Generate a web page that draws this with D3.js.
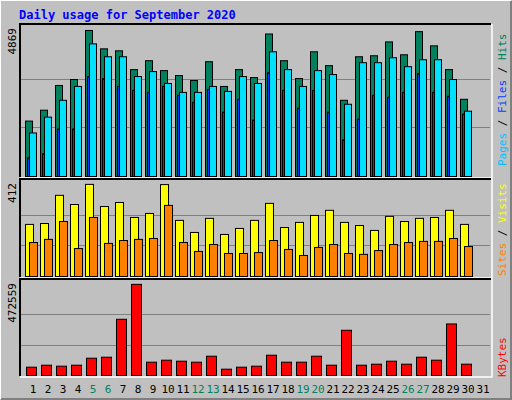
<!DOCTYPE html>
<html><head><meta charset="utf-8">
<script src="https://cdn.jsdelivr.net/npm/d3@7"></script>
<style>body{margin:0;background:#fff}text{font-family:"DejaVu Sans Mono",monospace}</style>
</head><body><div id="chart"></div>
<script>
// Daily values
const days = d3.range(1, 32);
const weekends = [5, 6, 12, 13, 19, 20, 26, 27];
const hits = [1848,2211,3036,3234,4869,4257,4191,3564,3861,3531,3366,3201,3828,3003,3564,3300,4752,3861,3267,4158,3696,2541,3993,4026,4488,4059,4830,4356,3564,2574];
const files = [1452,1980,2541,3003,4422,3993,3993,3333,3498,3102,2805,2805,3003,2838,3333,3102,4158,3564,3003,3531,3399,2409,3795,3795,3960,3663,3894,3894,3234,2178];
const pages = [627,759,1584,1584,3333,3267,3003,2871,2805,3003,2706,2475,2904,2145,2574,1881,3465,2871,2277,2871,2145,1221,1914,2706,2640,2805,3432,2805,2673,2079];
const visits = [233,237,363,322,412,313,331,264,282,411,251,197,260,188,215,251,327,219,242,273,296,242,228,206,269,246,260,264,296,233];
const sites = [152,166,246,125,264,148,161,166,170,318,152,112,143,103,103,107,161,121,94,130,143,103,99,116,143,152,157,157,170,134];
const kbytes = [43118,53466,48292,53466,89684,94859,291474,472559,68988,79336,74162,68988,100033,32769,43118,48292,105207,68988,68988,100033,53466,234559,53466,58640,74162,58640,94859,79336,267329,58640];

const width = 512, height = 400;
const svg = d3.select("#chart").append("svg").attr("width", width).attr("height", height);

svg.append("rect").attr("width", width).attr("height", height).attr("fill", "#c0c0c0");
svg.append("path").attr("d", "M0,399V0H511").attr("stroke", "#fff").attr("fill", "none").attr("stroke-width", 2);
svg.append("path").attr("d", "M1,399H511V1").attr("stroke", "#808080").attr("fill", "none").attr("stroke-width", 2);

svg.append("text").attr("x", 19).attr("y", 19).attr("fill", "#0000ff")
  .attr("font-size", 12).attr("font-weight", "bold").text("Daily usage for September 2020");

const x = d3.scaleBand().domain(days).range([25, 25 + 31 * 15]);

const panels = [
  { top: 25, bottom: 176, max: d3.max(hits), label: d3.max(hits), legendY: 166,
    series: [
      { data: hits, off: 0, w: 7, color: "#00805c" },
      { data: pages, off: 2, w: 2, color: "#0040ff" },
      { data: files, off: 4, w: 7, color: "#00e0ff" }],
    legend: [["Pages", "#00c0ff"], [" / ", "#000"], ["Files", "#0040ff"], [" / ", "#000"], ["Hits", "#00805c"]] },
  { top: 180, bottom: 276, max: d3.max(visits), label: d3.max(visits), legendY: 276,
    series: [
      { data: visits, off: 0, w: 8, color: "#ffff00" },
      { data: sites, off: 4, w: 8, color: "#ff8000" }],
    legend: [["Sites", "#ff8000"], [" / ", "#000"], ["Visits", "#ffff00"]] },
  { top: 280, bottom: 375, max: d3.max(kbytes), label: d3.max(kbytes), legendY: 377,
    series: [{ data: kbytes, off: 1, w: 10, color: "#ff0000" }],
    legend: [["KBytes", "#ff0000"]] }
];

panels.forEach(p => {
  const y = d3.scaleLinear().domain([0, p.max]).range([p.bottom, p.bottom - (p.bottom - p.top - 2) * 0.98]);
  const g = svg.append("g");
  g.append("path").attr("d", `M20,${p.bottom + 1}V${p.top - 1}H491`).attr("stroke", "#000").attr("stroke-width", 2).attr("fill", "none");
  g.append("path").attr("d", `M20,${p.bottom + 2}H492V${p.top - 1}`).attr("stroke", "#fff").attr("stroke-width", 1.5).attr("fill", "none");
  g.selectAll(".grid").data([1 / 3, 2 / 3]).join("line")
    .attr("x1", 21).attr("x2", 490)
    .attr("y1", d => Math.round(y(p.max * d)) + 0.5).attr("y2", d => Math.round(y(p.max * d)) + 0.5)
    .attr("stroke", "#808080");
  p.series.forEach(s => {
    g.append("g").selectAll("rect").data(s.data).join("rect")
      .attr("x", (d, i) => x(days[i]) + s.off + 0.5)
      .attr("width", s.w)
      .attr("y", d => y(d) + 0.5)
      .attr("height", d => p.bottom - y(d))
      .attr("fill", s.color).attr("stroke", "#000").attr("stroke-width", 1);
  });
  g.append("text").attr("transform", `translate(16,${p.top + 3}) rotate(-90)`)
    .attr("text-anchor", "end").attr("font-size", 11).attr("fill", "#000").text(p.label);
  const t = g.append("text").attr("transform", `translate(506,${p.legendY}) rotate(-90)`)
    .attr("text-anchor", "start").attr("font-size", 11);
  p.legend.forEach(([txt, c]) => t.append("tspan").attr("fill", c).attr("xml:space", "preserve").text(txt));
});

svg.append("g").selectAll("text").data(days).join("text")
  .attr("x", d => x(d) + 8).attr("y", 393)
  .attr("text-anchor", "middle").attr("font-size", 11)
  .attr("fill", d => weekends.includes(d) ? "#00805c" : "#000")
  .text(d => d);
</script></body></html>
